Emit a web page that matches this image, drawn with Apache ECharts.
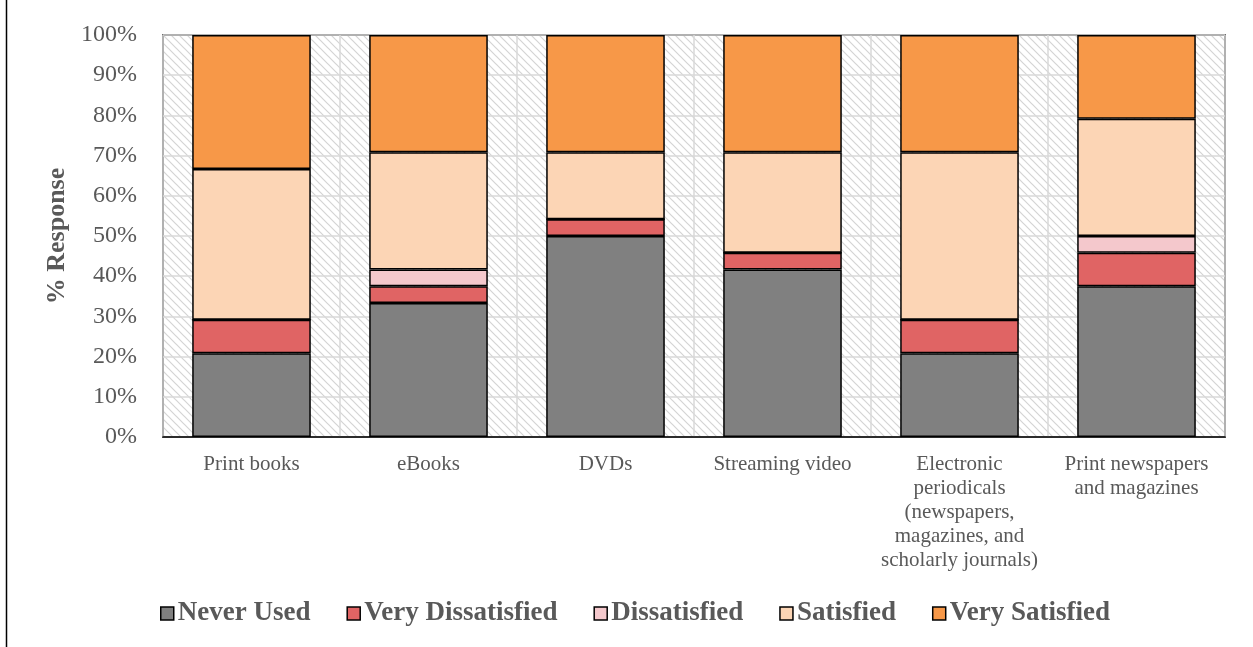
<!DOCTYPE html>
<html>
<head>
<meta charset="utf-8">
<script src="https://cdn.jsdelivr.net/npm/echarts@6/dist/echarts.min.js"></script>
<style>
html,body{margin:0;padding:0;background:#fff;}
#main{width:1253px;height:647px;}
</style>
</head>
<body>
<div id="main"></div>
<script>
const categories = ['Print books', 'eBooks', 'DVDs', 'Streaming video', 'Electronic\nperiodicals\n(newspapers,\nmagazines, and\nscholarly journals)', 'Print newspapers\nand magazines'];
const neverUsed = [20.83, 33.33, 50.0, 41.67, 20.83, 37.5];
const veryDissatisfied = [8.33, 4.17, 4.17, 4.17, 8.33, 8.33];
const dissatisfied = [0, 4.17, 0, 0, 0, 4.17];
const satisfied = [37.5, 29.17, 16.67, 25.0, 41.67, 29.17];
const verySatisfied = [33.33, 29.17, 29.17, 29.17, 29.17, 20.83];
const yTicks = [0, 10, 20, 30, 40, 50, 60, 70, 80, 90, 100];

const seriesNames = ['Never Used', 'Very Dissatisfied', 'Dissatisfied', 'Satisfied', 'Very Satisfied'];
const seriesData = [neverUsed, veryDissatisfied, dissatisfied, satisfied, verySatisfied];
const colors = ['#808080', '#e06464', '#f4c8cc', '#fcd5b5', '#f79848'];

// hatch pattern for plot background
const pc = document.createElement('canvas');
pc.width = 8; pc.height = 8;
const ctx = pc.getContext('2d');
ctx.fillStyle = '#ffffff';
ctx.fillRect(0, 0, 8, 8);
ctx.strokeStyle = '#d4d4d4';
ctx.lineWidth = 1.2;
ctx.beginPath();
ctx.moveTo(0, 0); ctx.lineTo(8, 8);
ctx.moveTo(-4, 4); ctx.lineTo(4, 12);
ctx.moveTo(4, -4); ctx.lineTo(12, 4);
ctx.stroke();

const chart = echarts.init(document.getElementById('main'), null, {renderer: 'canvas'});
const serif = '"Liberation Serif", "Times New Roman", serif';

const option = {
  animation: false,
  backgroundColor: '#ffffff',
  textStyle: {fontFamily: serif},
  grid: {
    left: 163, right: 28, top: 35, bottom: 210,
    show: true,
    backgroundColor: {image: pc, repeat: 'repeat'},
    borderColor: '#000000',
    borderWidth: 1.5
  },
  legend: {
    data: seriesNames,
    top: 595,
    left: 155,
    padding: [5, 5, 5, 5],
    icon: 'rect',
    itemWidth: 13,
    itemHeight: 13,
    itemGap: 36,
    textStyle: {fontFamily: serif, fontWeight: 'bold', fontSize: 27, color: '#595959', padding: [0, 0, 0, -1]},
    itemStyle: {borderColor: '#000', borderWidth: 1.5}
  },
  xAxis: {
    type: 'category',
    data: categories,
    axisLine: {show: true, lineStyle: {color: '#000', width: 1.5}},
    axisTick: {show: false},
    splitLine: {show: true, lineStyle: {color: '#d9d9d9', width: 1.5}},
    axisLabel: {
      fontFamily: serif, fontSize: 21, color: '#595959',
      lineHeight: 24, margin: 15, interval: 0
    }
  },
  yAxis: {
    type: 'value',
    min: yTicks[0], max: yTicks[yTicks.length - 1], interval: 10,
    name: '% Response',
    nameLocation: 'middle',
    nameGap: 90,
    nameTextStyle: {fontFamily: serif, fontWeight: 'bold', fontSize: 26, color: '#595959'},
    axisLine: {show: false},
    axisTick: {show: false},
    splitLine: {show: true, lineStyle: {color: '#d9d9d9', width: 1.5}},
    axisLabel: {
      formatter: '{value}%',
      fontFamily: serif, fontSize: 24, color: '#595959', margin: 26
    }
  },
  series: seriesNames.map((n, i) => ({
    name: n,
    type: 'bar',
    stack: 'total',
    barWidth: '67%',
    data: seriesData[i],
    itemStyle: {color: colors[i], borderColor: '#000', borderWidth: 1.5}
  })),
  graphic: [{
    type: 'line',
    shape: {x1: 6.5, y1: 0, x2: 6.5, y2: 647},
    style: {stroke: '#000', lineWidth: 1.5}
  }]
};
chart.setOption(option);
</script>
</body>
</html>
